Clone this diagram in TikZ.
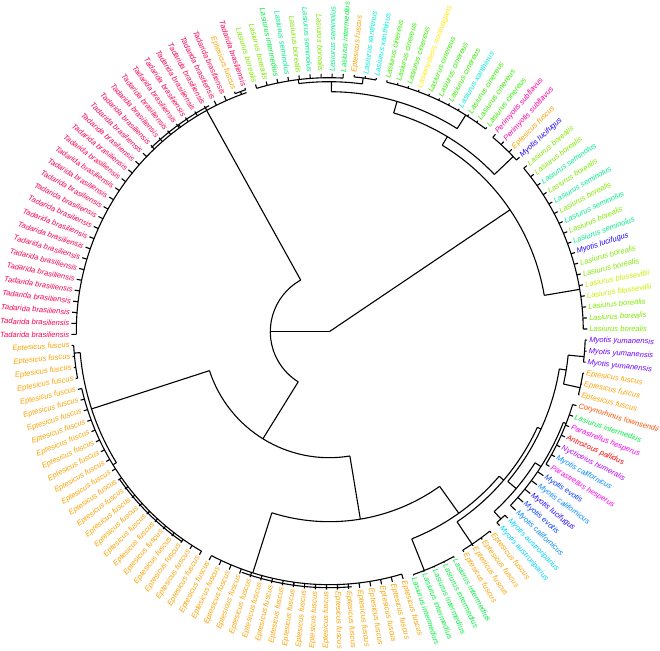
\documentclass[tikz,border=0pt]{standalone}
\usepackage{fontspec}
\setmainfont{Liberation Sans}
\definecolor{Ant}{HTML}{FF0000}
\definecolor{Cor}{HTML}{FF5100}
\definecolor{Ept}{HTML}{FFA100}
\definecolor{Lno}{HTML}{FFE800}
\definecolor{Lbl}{HTML}{C8F000}
\definecolor{Lbo}{HTML}{7FEA00}
\definecolor{Lci}{HTML}{33F000}
\definecolor{Lin}{HTML}{00F040}
\definecolor{Lse}{HTML}{00EE8A}
\definecolor{Lxa}{HTML}{00F0D7}
\definecolor{Mau}{HTML}{00D0FF}
\definecolor{Mca}{HTML}{0086FF}
\definecolor{Mev}{HTML}{0036FF}
\definecolor{Mlu}{HTML}{1B00FF}
\definecolor{Myu}{HTML}{6B00FF}
\definecolor{Nhu}{HTML}{BC00FF}
\definecolor{Phe}{HTML}{FF00F2}
\definecolor{Psu}{HTML}{FF00A1}
\definecolor{Tbr}{HTML}{FF0051}
\expandafter\def\csname nmAnt\endcsname{Antrozous pallidus}
\expandafter\def\csname nmCor\endcsname{Corynorhinus townsendii}
\expandafter\def\csname nmEpt\endcsname{Eptesicus fuscus}
\expandafter\def\csname nmLno\endcsname{Lasionycteris noctivagans}
\expandafter\def\csname nmLbl\endcsname{Lasiurus blossevillii}
\expandafter\def\csname nmLbo\endcsname{Lasiurus borealis}
\expandafter\def\csname nmLci\endcsname{Lasiurus cinereus}
\expandafter\def\csname nmLin\endcsname{Lasiurus intermedius}
\expandafter\def\csname nmLse\endcsname{Lasiurus seminolus}
\expandafter\def\csname nmLxa\endcsname{Lasiurus xanthinus}
\expandafter\def\csname nmMau\endcsname{Myotis austroriparius}
\expandafter\def\csname nmMca\endcsname{Myotis californicus}
\expandafter\def\csname nmMev\endcsname{Myotis evotis}
\expandafter\def\csname nmMlu\endcsname{Myotis lucifugus}
\expandafter\def\csname nmMyu\endcsname{Myotis yumanensis}
\expandafter\def\csname nmNhu\endcsname{Nycticeius humeralis}
\expandafter\def\csname nmPhe\endcsname{Parastrellus hesperus}
\expandafter\def\csname nmPsu\endcsname{Perimyotis subflavus}
\expandafter\def\csname nmTbr\endcsname{Tadarida brasiliensis}
\tikzset{
  br/.style={line width=1.1pt, line cap=butt},
  lbl/.style={font=\fontsize{7.6}{8}\selectfont\itshape, inner sep=0pt}
}
% internal node: stem angle, parent radius, node radius, arc from, arc to
\newcommand\nd[5]{%
  \draw[br] (#1:#2pt) -- (#1:#3pt);
  \draw[br] (#4:#3pt) arc[start angle=#4, end angle=#5, radius=#3pt];}
% leaf: index, parent radius, species key
\newcommand\leaf[3]{%
  \pgfmathsetmacro\tA{0.6+#1*2.46575}%
  \draw[br] (\tA:#2pt) -- (\tA:258pt);
  \ifdim\tA pt>90pt
    \ifdim\tA pt<270pt
      \pgfmathsetmacro\tR{\tA-180}%
      \node[lbl, text=#3, anchor=east, rotate=\tR] (t#1) at (\tA:260pt) {\csname nm#3\endcsname};
    \else
      \node[lbl, text=#3, anchor=west, rotate=\tA] (t#1) at (\tA:260pt) {\csname nm#3\endcsname};
    \fi
  \else
    \node[lbl, text=#3, anchor=west, rotate=\tA] (t#1) at (\tA:260pt) {\csname nm#3\endcsname};
  \fi}
\begin{document}
\begin{tikzpicture}[x=1pt,y=1pt]
\useasboundingbox (0,0) rectangle (660,650);
\begin{scope}[shift={(329.3,318.3)}]
% root
\draw[br] (0,0) -- (34:218pt);
\draw[br] (0,0) -- (180:59pt);
\draw[br] (119:59pt) arc[start angle=119, end angle=238.2, radius=59pt];
% A1 Tadarida clade
\nd{119}{59}{253}{109.09}{180.6}
\nd{110.3}{253}{256}{109.09}{111.56}
\nd{126}{253}{256}{118}{134}
% A2
\nd{238.2}{59}{126}{198}{279.4}
\nd{198}{126}{250}{184.8}{211.6}
\nd{184.8}{250}{256}{183.07}{190.5}
\nd{211.6}{250}{254}{192.9}{239.8}
\nd{225}{254}{256.5}{215}{235}
\nd{279.4}{126}{190}{252.4}{305.5}
\nd{252.4}{190}{253}{242.25}{286.63}
\nd{262}{253}{256}{250}{275}
\nd{305.5}{190}{223}{291.7}{319.6}
\nd{291.7}{223}{257}{289.09}{298.96}
\nd{319.6}{223}{229}{303.9}{335.3}
\nd{303.9}{229}{256}{301.42}{308.82}
\nd{335.3}{229}{233}{320}{350.8}
\nd{320}{233}{244}{312.5}{327.5}
\nd{312.5}{244}{254}{311.29}{313.75}
\nd{327.5}{244}{251}{316.22}{338.8}
\nd{338.8}{251}{254}{328.55}{343.34}
\nd{350.8}{233}{240}{347.4}{354.4}
\nd{347.4}{240}{257}{345.81}{350.74}
\nd{354.4}{240}{256}{353.2}{358.14}
% B
\draw[br] (9.6:218pt) arc[start angle=9.6, end angle=58.8, radius=218pt];
\nd{9.6}{218}{254}{0.6}{40.05}
\nd{58.8}{218}{228}{43.6}{73.6}
\nd{43.6}{228}{254}{42.52}{49.92}
\nd{73.6}{228}{240}{57.8}{89.5}
\nd{57.8}{240}{256}{52.38}{77.04}
\nd{89.5}{240}{250}{82.4}{97}
\nd{82.4}{250}{256}{79.5}{84.44}
\nd{97}{250}{254}{86.9}{106.63}
% leaves
\foreach \i/\r/\k in {0/254/Lbo,1/254/Lbo,2/254/Lbo,3/254/Lbl,4/254/Lbl,5/254/Lbo,6/254/Lbo,7/254/Mlu,8/254/Lse,9/254/Lbo,10/254/Lse,11/254/Lbo,12/254/Lse,13/254/Lbo,14/254/Lse,15/254/Lbo,16/254/Lbo,17/254/Mlu,18/254/Ept,19/254/Psu,20/254/Psu,21/256/Lci,22/256/Lci,23/256/Lci,24/256/Lxa,25/256/Lci,26/256/Lci,27/256/Lci,28/256/Lno,29/256/Lci,30/256/Lci,31/256/Lci,32/256/Lxa,33/256/Lxa,34/256/Ept,35/254/Lin,36/254/Lse,37/254/Lbo,38/254/Lse,39/254/Lbo,40/254/Lse,41/254/Lin,42/254/Lbo,43/254/Lbo,44/256/Tbr,45/256/Ept}
  {\leaf{\i}{\r}{\k}}
\foreach \i in {46,...,73} {\leaf{\i}{253}{Tbr}}
\foreach \i in {74,...,77} {\leaf{\i}{256}{Ept}}
\foreach \i in {78,...,97} {\leaf{\i}{254}{Ept}}
\foreach \i in {98,...,116} {\leaf{\i}{253}{Ept}}
\foreach \i in {117,...,121} {\leaf{\i}{257}{Lin}}
\foreach \i in {122,...,125} {\leaf{\i}{256}{Ept}}
\foreach \i/\r/\k in {126/254/Mau,127/254/Mau,128/251/Mca,129/251/Mev,130/251/Mlu,131/251/Mca,132/251/Mev,133/254/Phe,134/254/Mca,135/254/Nhu,136/254/Ant,137/254/Phe,138/254/Lin,139/254/Cor,140/257/Ept,141/257/Ept,142/257/Ept,143/256/Myu,144/256/Myu,145/256/Myu}
  {\leaf{\i}{\r}{\k}}
\end{scope}
\end{tikzpicture}
\end{document}
